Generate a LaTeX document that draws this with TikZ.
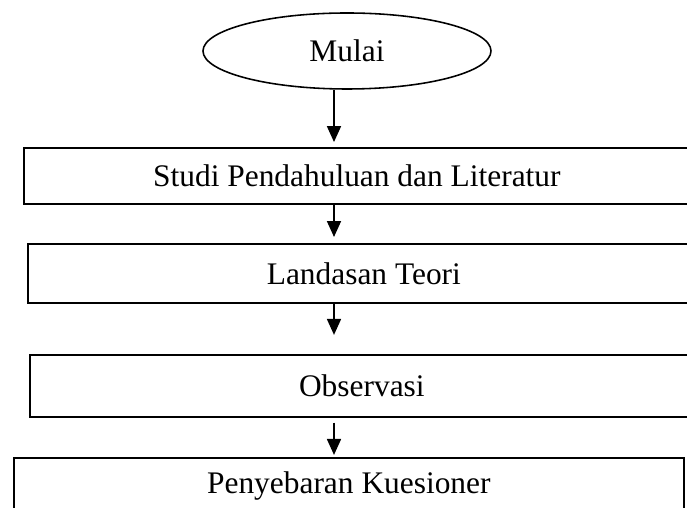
\documentclass[tikz,border=0pt]{standalone}
\usepackage{fontspec}
\setmainfont{Liberation Serif}
\usetikzlibrary{shapes.geometric,arrows.meta}
\newcommand\pxu{0.382pt}
\tikzset{
  flowbox/.style={draw,line width=0.65pt,rectangle,inner sep=0pt,anchor=north west,font=\fontsize{12}{14}\selectfont},
  startbox/.style={draw,line width=0.6pt,ellipse,inner sep=0pt,minimum width=288*\pxu,minimum height=76*\pxu,font=\fontsize{12}{14}\selectfont},
  flowarrow/.style={line width=0.5pt,-{Triangle[length=6.1pt,width=5.4pt]}}
}
\begin{document}
\begin{tikzpicture}[x=\pxu,y=-\pxu]
\useasboundingbox (0,0) rectangle (687,508);
\clip (0,0) rectangle (687,508);
\coordinate (spine) at (334,0);

\node[startbox] (mulai) at (347,51) {Mulai};
\node[flowbox,minimum width=666*\pxu,minimum height=56*\pxu] (studi) at (23,147) {Studi Pendahuluan dan Literatur};
\node[flowbox,minimum width=672*\pxu,minimum height=59*\pxu] (teori) at (27,243) {Landasan Teori};
\node[flowbox,minimum width=664*\pxu,minimum height=62*\pxu] (obs) at (29,354) {Observasi};
\node[flowbox,minimum width=670*\pxu,minimum height=56*\pxu] (kues) at (13,457) {Penyebaran Kuesioner};

\draw[flowarrow,shorten >=1.9pt] (mulai.south -| spine) -- (studi.north -| spine);
\draw[flowarrow,shorten >=2.3pt] (studi.south -| spine) -- (teori.north -| spine);
\draw[flowarrow,shorten >=7.3pt] (teori.south -| spine) -- (obs.north -| spine);
\draw[flowarrow,shorten <=1.9pt,shorten >=0.8pt] (obs.south -| spine) -- (kues.north -| spine);
\end{tikzpicture}
\end{document}
